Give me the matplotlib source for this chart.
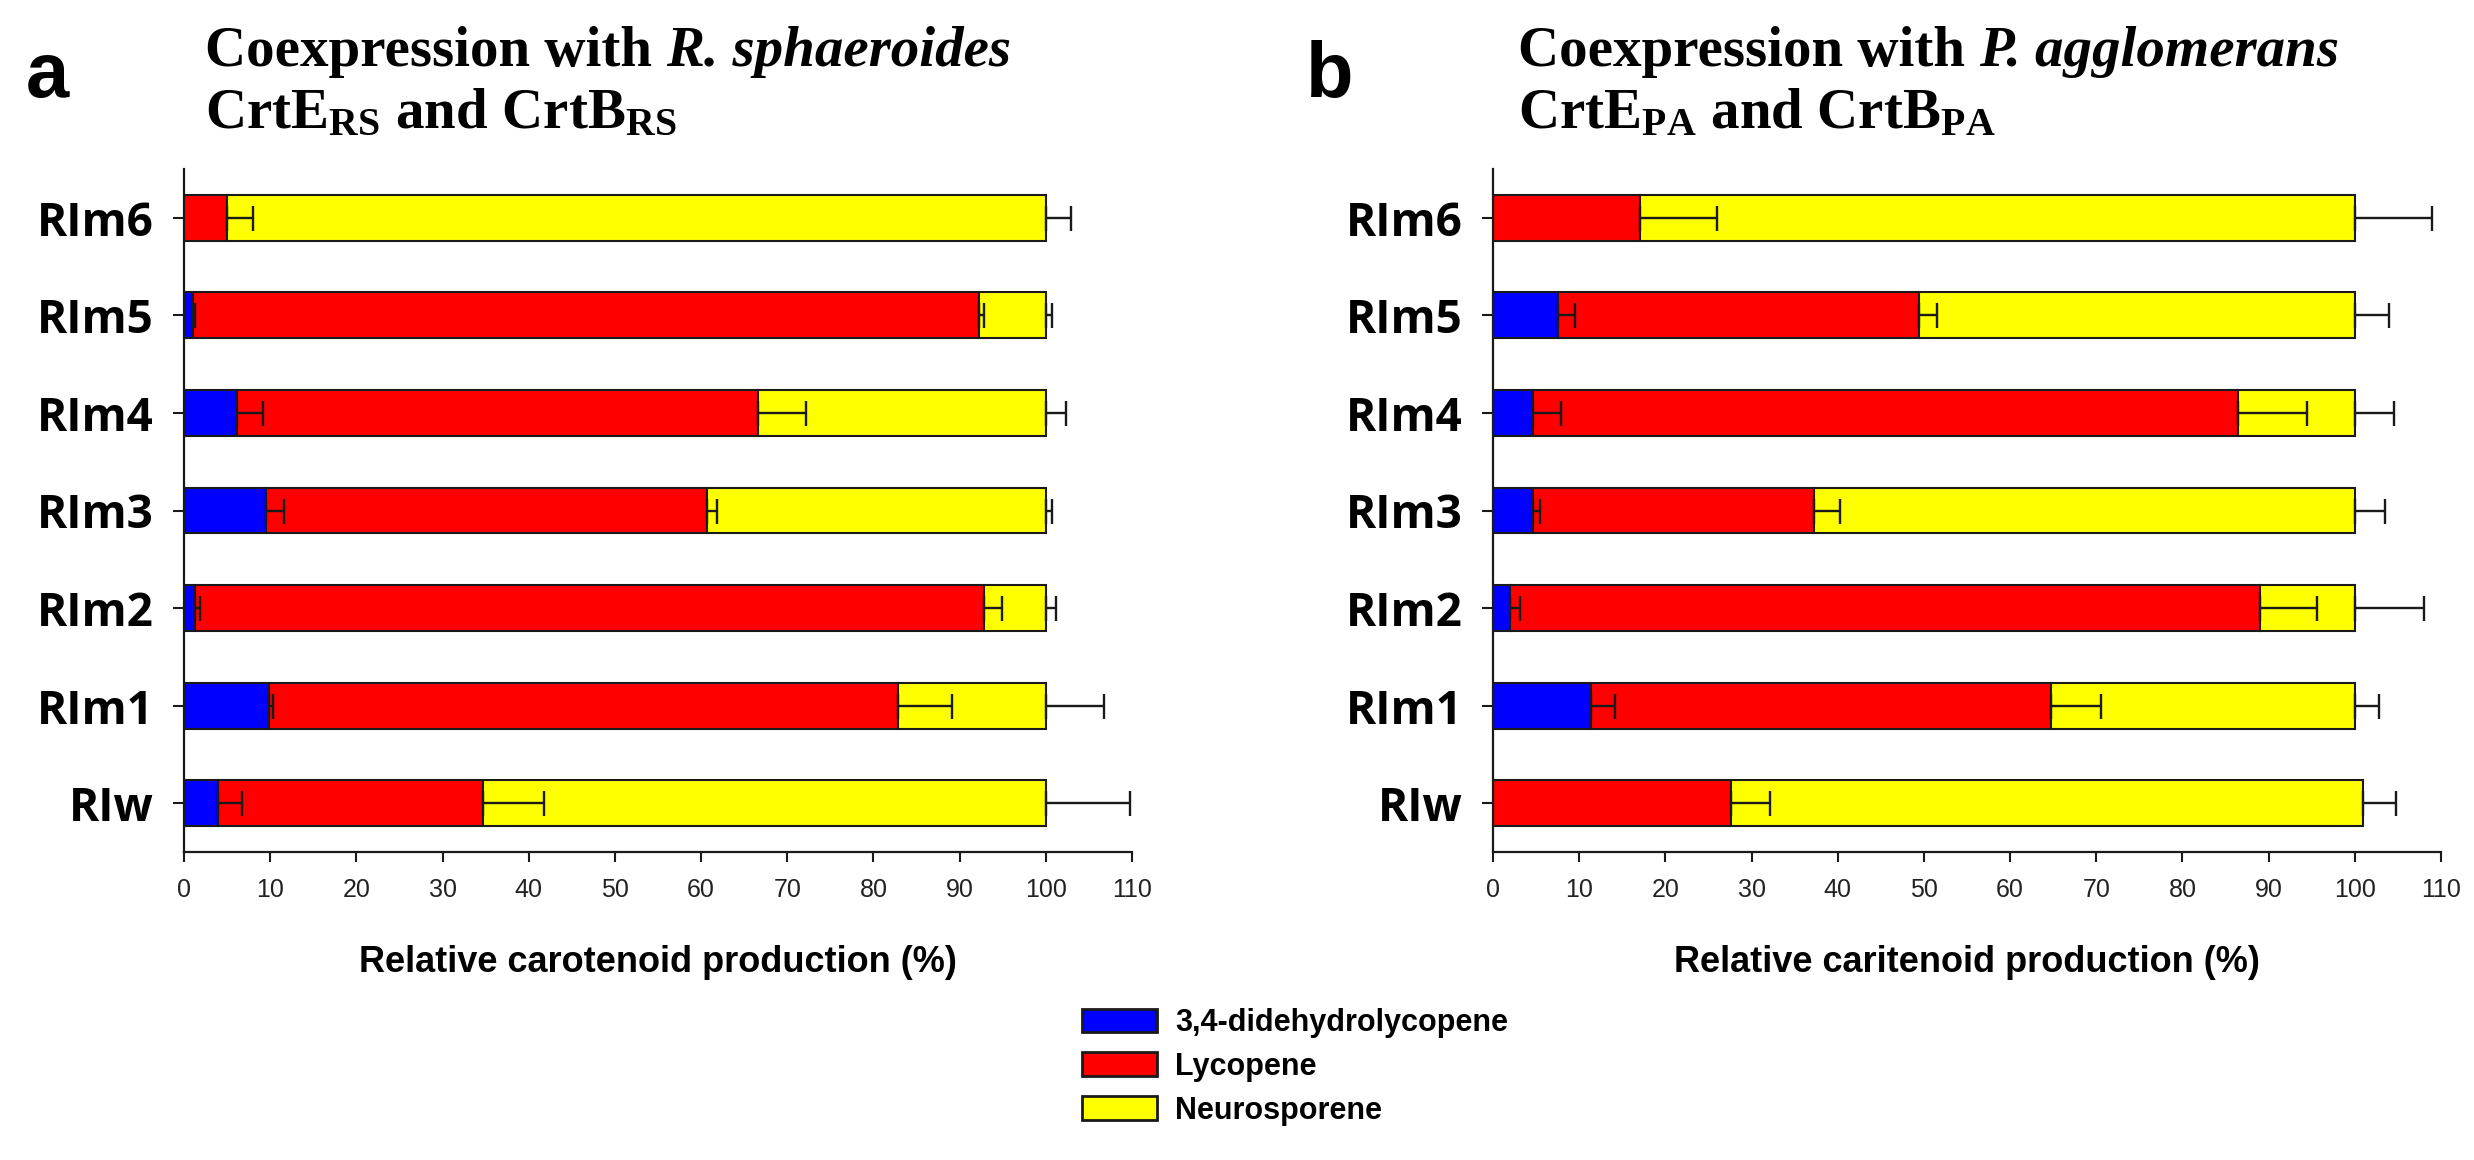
import matplotlib
matplotlib.use("Agg")
import matplotlib.pyplot as plt
from matplotlib.patches import Patch
import numpy as np

# ---------------- data ----------------
categories = ['RIw', 'RIm1', 'RIm2', 'RIm3', 'RIm4', 'RIm5', 'RIm6']
series_names = ['3,4-didehydrolycopene', 'Lycopene', 'Neurosporene']
series_colors = ['#0000FF', '#FF0000', '#FFFF00']
xticks = [0, 10, 20, 30, 40, 50, 60, 70, 80, 90, 100, 110]

# panel a (R. sphaeroides)
a_dide = [4.0, 9.9, 1.3, 9.5, 6.1, 1.0, 0.0]
a_dide_err = [2.7, 0.4, 0.6, 2.1, 3.1, 0.3, 0.0]
a_lyco = [30.7, 73.0, 91.5, 51.2, 60.5, 91.2, 5.0]
a_lyco_err = [7.1, 6.2, 2.1, 1.1, 5.6, 0.6, 3.0]
a_neuro = [65.3, 17.1, 7.2, 39.3, 33.4, 7.8, 95.0]
a_neuro_err = [9.8, 6.8, 1.2, 0.7, 2.3, 0.7, 2.9]

# panel b (P. agglomerans)
b_dide = [0.0, 11.4, 2.0, 4.6, 4.6, 7.6, 0.0]
b_dide_err = [0.0, 2.7, 1.1, 0.8, 3.3, 1.9, 0.0]
b_lyco = [27.6, 53.4, 87.0, 32.7, 81.9, 41.8, 17.1]
b_lyco_err = [4.5, 5.7, 6.6, 3.0, 8.0, 2.1, 8.9]
b_neuro = [73.4, 35.2, 11.0, 62.7, 13.5, 50.6, 82.9]
b_neuro_err = [3.8, 2.8, 8.0, 3.5, 4.5, 4.0, 9.0]

xlabel_a = 'Relative carotenoid production (%)'
xlabel_b = 'Relative caritenoid production (%)'

# ---------------- style ----------------
plt.rcParams['mathtext.fontset'] = 'custom'
plt.rcParams['mathtext.rm'] = 'Liberation Serif:bold'
plt.rcParams['mathtext.it'] = 'Liberation Serif:italic:bold'
plt.rcParams['mathtext.bf'] = 'Liberation Serif:bold'

W, H = 2474, 1160
DPI = 100
fig = plt.figure(figsize=(W / DPI, H / DPI), dpi=DPI)

ax_left_a, ax_left_b = 184, 1493
ax_w = 948
ax_top, ax_bot = 169, 852


def make_axes(left_px):
    return fig.add_axes([left_px / W, 1 - ax_bot / H, ax_w / W, (ax_bot - ax_top) / H])


def draw_panel(ax, segs, errs, xlabel):
    y = np.arange(len(categories))
    left = np.zeros(len(categories))
    bar_h = 0.47
    ends = []
    for vals, col in zip(segs, series_colors):
        vals = np.asarray(vals, float)
        ax.barh(y, vals, left=left, height=bar_h, color=col,
                edgecolor='#1a1a1a', linewidth=1.5, zorder=2)
        left = left + vals
        ends.append(left.copy())
    for end, err in zip(ends, errs):
        err = np.asarray(err, float)
        m = err > 0
        ax.errorbar(end[m], y[m], xerr=[np.zeros(m.sum()), err[m]], fmt='none',
                    ecolor='#1a1a1a', elinewidth=1.7, capsize=9, capthick=1.7, zorder=3)
    ax.set_xlim(0, 110)
    ax.set_ylim(-0.5, 6.5)
    ax.set_xticks(xticks)
    ax.set_xticklabels([str(t) for t in xticks], fontsize=18, family='Liberation Sans',
                       color='#222222')
    ax.set_yticks(y)
    ax.set_yticklabels(categories, fontsize=33, family='Open Sans', fontweight='bold')
    ax.tick_params(axis='y', length=8, width=1.5, pad=14, color='#1a1a1a')
    ax.tick_params(axis='x', length=7, width=1.5, pad=12, color='#1a1a1a')
    for s in ['top', 'right']:
        ax.spines[s].set_visible(False)
    for s in ['left', 'bottom']:
        ax.spines[s].set_linewidth(1.6)
        ax.spines[s].set_color('#1a1a1a')
    ax.set_xlabel(xlabel, fontsize=26, family='Liberation Sans', fontweight='bold', va='center')
    ax.xaxis.set_label_coords(0.5, -(962 - ax_bot) / (ax_bot - ax_top))


ax_a = make_axes(ax_left_a)
draw_panel(ax_a, [a_dide, a_lyco, a_neuro], [a_dide_err, a_lyco_err, a_neuro_err], xlabel_a)
ax_b = make_axes(ax_left_b)
draw_panel(ax_b, [b_dide, b_lyco, b_neuro], [b_dide_err, b_lyco_err, b_neuro_err], xlabel_b)

# panel letters
fig.text(47 / W, 1 - 76 / H, 'a', fontsize=56, family='Liberation Sans', fontweight='bold',
         ha='center', va='center')
fig.text(1330 / W, 1 - 76 / H, 'b', fontsize=56, family='Liberation Sans', fontweight='bold',
         ha='center', va='center')

# titles
tkw = dict(fontsize=41, family='Liberation Serif', fontweight='bold', ha='left', va='baseline')
renderer = fig.canvas.get_renderer()


def title_line1(x_px, species):
    t = fig.text(x_px / W, 1 - 66 / H, 'Coexpression with ', **tkw)
    bb = t.get_window_extent(renderer=renderer)
    space = fig.text(0, 0, 'with ', **tkw)
    fig.text(bb.x1 / W, 1 - 66 / H, species, style='italic', **tkw)
    space.remove()


title_line1(205, 'R. sphaeroides')
title_line1(1518, 'P. agglomerans')
fig.text(205 / W, 1 - 128 / H, r'CrtE$_{\mathrm{RS}}$ and CrtB$_{\mathrm{RS}}$', **tkw)
fig.text(1518 / W, 1 - 128 / H, r'CrtE$_{\mathrm{PA}}$ and CrtB$_{\mathrm{PA}}$', **tkw)

# legend
handles = [Patch(facecolor=c, edgecolor='#1a1a1a', linewidth=2) for c in series_colors]
fig.legend(handles, series_names, loc='upper left',
           bbox_to_anchor=(1082 / W, 1 - 1008 / H), frameon=False,
           prop={'family': 'Liberation Sans', 'weight': 'bold', 'size': 22},
           handlelength=2.45, handleheight=0.8, handletextpad=0.6,
           labelspacing=0.45, borderpad=0, borderaxespad=0)

fig.savefig('out.png', dpi=DPI, facecolor='white')
